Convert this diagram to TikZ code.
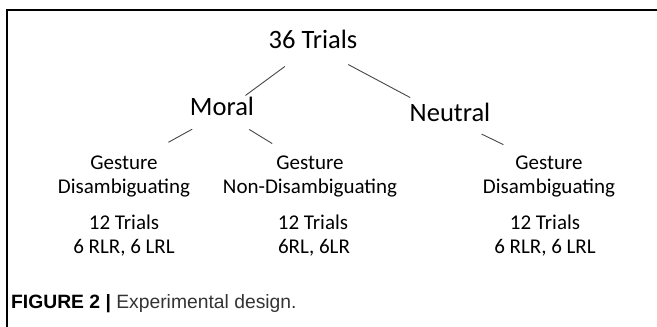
\documentclass[tikz,border=0pt]{standalone}
\usepackage{fontspec}
\setmainfont{Carlito}
\newfontfamily\capfont{Liberation Sans}
\usetikzlibrary{calc}
\begin{document}
\begin{tikzpicture}[x=1pt,y=-1pt,
  big/.style={font=\fontsize{26.5}{30}\selectfont, inner sep=0pt, text height=0.65em, text depth=0.2em, anchor=base},
  small/.style={font=\fontsize{21}{24}\selectfont, inner sep=0pt, text height=0.65em, text depth=0.2em, anchor=base},
  link/.style={draw=black!72, line width=0.9pt}]
\useasboundingbox (0,0) rectangle (657,327);
\draw[line width=1.2pt] (7,327) -- (7,10) -- (657,10);
\node[big] (top) at (313,48) {36 Trials};
\node[big] (moral) at (222,115) {Moral};
\node[big] (neutral) at (450,121) {Neutral};
\node[small] (g1a) at (124,169) {Gesture};
\node[small] (g1b) at (124,193) {Disambiguating};
\node[small] (g1c) at (124,229) {12 Trials};
\node[small] (g1d) at (124,253) {6 RLR, 6 LRL};
\node[small] (g2a) at (310,169) {Gesture};
\node[small] (g2b) at (310,193) {Non-Disambiguating};
\node[small] (g2c) at (313,229) {12 Trials};
\node[small] (g2d) at (314,253) {6RL, 6LR};
\node[small] (g3a) at (549,169) {Gesture};
\node[small] (g3b) at (549,193) {Disambiguating};
\node[small] (g3c) at (545,229) {12 Trials};
\node[small] (g3d) at (545,253) {6 RLR, 6 LRL};
\node[anchor=base west, inner sep=0pt, font=\capfont\fontsize{19.3}{22}\selectfont] (cap) at (11,308) {\textbf{FIGURE 2 |} \textcolor{black!80}{Experimental design.}};
\draw[link] ($(top)!0.309!(moral)$) -- ($(top)!0.742!(moral)$);
\draw[link] ($(top)!0.257!(neutral)$) -- ($(top)!0.709!(neutral)$);
\draw[link] ($(moral)!0.304!(g1a)$) -- ($(moral)!0.547!(g1a)$);
\draw[link] ($(moral)!0.309!(g2a)$) -- ($(moral)!0.57!(g2a)$);
\draw[link] ($(neutral)!0.32!(g3a)$) -- ($(neutral)!0.539!(g3a)$);
\end{tikzpicture}
\end{document}
